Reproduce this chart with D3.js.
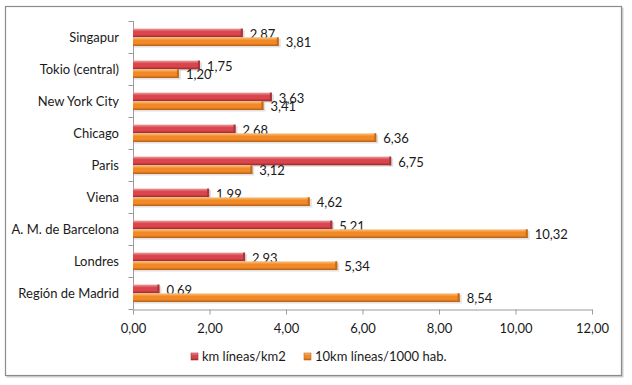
<!DOCTYPE html>
<html>
<head>
<meta charset="utf-8">
<script src="https://cdn.jsdelivr.net/npm/d3@7"></script>
<style>
  body { margin: 0; background: #fff; }
  text { font-family: Lato, "Open Sans", sans-serif; fill: #1a1a1a; }
</style>
</head>
<body>
<div class="myBar"></div>
<script>
// data
const ciudades = ['Singapur', 'Tokio (central)', 'New York City', 'Chicago', 'Paris', 'Viena',
    'A. M. de Barcelona', 'Londres', 'Región de Madrid']
const kmPorKm2 = [2.87, 1.75, 3.63, 2.68, 6.75, 1.99, 5.21, 2.93, 0.69]
const kmPorHab = [3.81, 1.20, 3.41, 6.36, 3.12, 4.62, 10.32, 5.34, 8.54]
const series = ['km líneas/km2', '10km líneas/1000 hab.']
const xTicks = [0, 2, 4, 6, 8, 10, 12]

const width = 632
const height = 385

const es = d3.formatLocale({ decimal: ',', thousands: '.', grouping: [3], currency: ['', '€'] })
const fmt = es.format('.2f')

const svg = d3.select('.myBar')
    .append('svg')
    .attr('width', width)
    .attr('height', height)

// colours: [light top, mid, dark bottom, end cap]
const colores = [
    ['#ec9a9e', '#d8454c', '#9a2529', '#a3383c'],
    ['#fcc387', '#f08a26', '#b95d12', '#c06a1c']
]

const defs = svg.append('defs')
colores.forEach((c, i) => {
    const g = defs.append('linearGradient')
        .attr('id', 'grad' + i)
        .attr('x1', 0).attr('y1', 0).attr('x2', 0).attr('y2', 1)
    g.append('stop').attr('offset', '0%').attr('stop-color', c[0])
    g.append('stop').attr('offset', '35%').attr('stop-color', c[1])
    g.append('stop').attr('offset', '70%').attr('stop-color', c[1])
    g.append('stop').attr('offset', '100%').attr('stop-color', c[2])
})

// outer frame
svg.append('rect')
    .attr('x', 6.5).attr('y', 7.5)
    .attr('width', 617).attr('height', 370)
    .attr('fill', '#d0d0d0')
svg.append('rect')
    .attr('x', 5.5).attr('y', 6.5)
    .attr('width', 616).attr('height', 369)
    .attr('fill', '#fff')
    .attr('stroke', '#8c8c8c')
    .attr('stroke-width', 1.2)

const xScale = d3.scaleLinear().domain([0, 12]).range([133, 592])
const yScale = d3.scaleBand().domain(ciudades).range([21, 309])
const ySub = d3.scaleBand().domain(series).range([7.6, 25])

// axes
const xAxis = d3.axisBottom(xScale).tickValues(xTicks).tickFormat(fmt).tickSize(5).tickSizeOuter(0)
const gx = svg.append('g')
    .attr('transform', `translate(0, 309.5)`)
    .call(xAxis)
gx.select('.domain').attr('stroke', '#9a9a9a')
gx.selectAll('.tick line').attr('stroke', '#9a9a9a')
gx.selectAll('.tick text')
    .attr('y', 14)
    .style('font-size', '13px')
    .style('font-family', 'Lato, sans-serif')
    .attr('fill', '#1a1a1a')

const gy = svg.append('g').attr('transform', 'translate(133.5, 0)')
gy.append('line')
    .attr('y1', yScale.range()[0]).attr('y2', yScale.range()[1])
    .attr('stroke', '#9a9a9a')
const bordes = ciudades.map((c) => yScale(c)).concat([yScale.range()[1]])
gy.selectAll('.tk')
    .data(bordes)
    .enter()
    .append('line')
    .attr('x1', -5).attr('x2', 0)
    .attr('y1', (d) => Math.round(d) + 0.5)
    .attr('y2', (d) => Math.round(d) + 0.5)
    .attr('stroke', '#9a9a9a')

svg.append('g')
    .selectAll('text')
    .data(ciudades)
    .enter()
    .append('text')
    .attr('x', 119)
    .attr('y', (d) => yScale(d) + yScale.bandwidth() / 2)
    .attr('dy', '0.35em')
    .attr('text-anchor', 'end')
    .style('font-size', '13px')
    .text((d) => d)

// bars
const filas = []
ciudades.forEach((c, i) => {
    filas.push({ ciudad: c, serie: 0, valor: kmPorKm2[i] })
    filas.push({ ciudad: c, serie: 1, valor: kmPorHab[i] })
})

const barH = ySub.bandwidth()
const barras = svg.append('g')
    .selectAll('g')
    .data(filas)
    .enter()
    .append('g')
    .attr('transform', (d) => `translate(0, ${yScale(d.ciudad) + ySub(series[d.serie])})`)

// soft shadow
barras.append('rect')
    .attr('x', xScale(0) + 1)
    .attr('y', 1.5)
    .attr('width', (d) => xScale(d.valor) - xScale(0) + 1)
    .attr('height', barH)
    .attr('fill', '#000')
    .attr('opacity', 0.12)

barras.append('rect')
    .attr('x', xScale(0))
    .attr('y', 0)
    .attr('width', (d) => xScale(d.valor) - xScale(0))
    .attr('height', barH)
    .attr('fill', (d) => `url(#grad${d.serie})`)

// end cap
barras.append('rect')
    .attr('x', (d) => xScale(d.valor) - 2)
    .attr('y', 0)
    .attr('width', 2)
    .attr('height', barH)
    .attr('fill', (d) => colores[d.serie][3])

barras.append('text')
    .attr('x', (d) => xScale(d.valor) + 7)
    .attr('y', barH / 2 + 1)
    .attr('dy', '0.35em')
    .style('font-size', '13px')
    .text((d) => fmt(d.valor))

// legend
const leyX = [191, 304]
const ley = svg.append('g')
    .selectAll('g')
    .data(series)
    .enter()
    .append('g')
    .attr('transform', (d, i) => `translate(${leyX[i]}, 353)`)
ley.append('rect')
    .attr('width', 7).attr('height', 7)
    .attr('fill', (d, i) => `url(#grad${i})`)
    .attr('stroke', (d, i) => colores[i][3])
    .attr('stroke-width', 0.6)
ley.append('text')
    .attr('x', 11)
    .attr('y', 3.8)
    .attr('dy', '0.35em')
    .style('font-size', '13px')
    .text((d) => d)
</script>
</body>
</html>
